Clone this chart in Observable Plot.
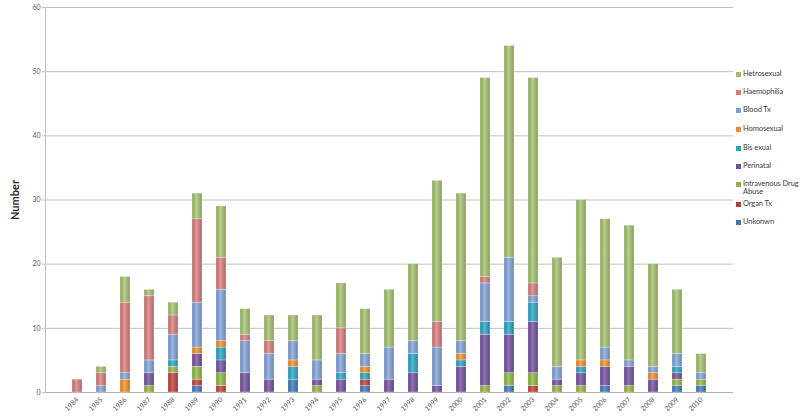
<!DOCTYPE html>
<html>
<head>
<meta charset="utf-8">
<script src="https://cdn.jsdelivr.net/npm/d3@7"></script>
<script src="https://cdn.jsdelivr.net/npm/@observablehq/plot@0.6"></script>
<style>
  html, body { margin: 0; padding: 0; background: #fff; }
  #wrap { position: relative; width: 800px; height: 416px; font-family: Lato, "Open Sans", sans-serif; }
  #legend { position: absolute; left: 736px; top: 70px; width: 64px; font-size: 7.5px; letter-spacing: -0.1px; color: #404040; line-height: 8px; }
  .li { position: absolute; left: 0; display: flex; align-items: flex-start; white-space: nowrap; }
  .sw { width: 5px; height: 5px; margin: 2px 2px 0 0; flex: none; }
</style>
</head>
<body>
<div id="wrap"></div>
<script>
const years = ["1984","1985","1986","1987","1988","1989","1990","1991","1992","1993","1994","1995","1996","1997","1998","1999","2000","2001","2002","2003","2004","2005","2006","2007","2008","2009","2010"];
const seriesNames = ["Unkonwn","Organ Tx","Intravenous Drug Abuse","Perinatal","Bis exual","Homosexual","Blood Tx","Haemophilia","Hetrosexual"];
const seriesColors = ["#3A75BD","#BE3A34","#8DB43E","#704C9C","#23A1BF","#F08A22","#7E9FD3","#D47A78","#A0BE6A"];
const yTicks = [0,10,20,30,40,50,60];
//                       84 85 86 87 88 89 90 91 92 93 94 95 96 97 98 99 00 01 02 03 04 05 06 07 08 09 10
const unknown        = [ 0, 0, 0, 0, 0, 1, 0, 0, 0, 2, 0, 0, 1, 0, 0, 0, 0, 0, 1, 0, 0, 0, 1, 0, 0, 1, 1];
const organTx        = [ 0, 0, 0, 0, 3, 1, 1, 0, 0, 0, 0, 0, 1, 0, 0, 0, 0, 0, 0, 1, 0, 0, 0, 0, 0, 0, 0];
const ivDrug         = [ 0, 0, 0, 1, 1, 2, 2, 0, 0, 0, 1, 0, 0, 0, 0, 0, 0, 1, 2, 2, 1, 1, 0, 1, 0, 1, 1];
const perinatal      = [ 0, 0, 0, 2, 0, 2, 2, 3, 2, 0, 1, 2, 0, 2, 3, 1, 4, 8, 6, 8, 1, 2, 3, 3, 2, 1, 0];
const bisexual       = [ 0, 0, 0, 0, 1, 0, 2, 0, 0, 2, 0, 1, 1, 0, 3, 0, 1, 2, 2, 3, 0, 1, 0, 0, 0, 1, 0];
const homosexual     = [ 0, 0, 2, 0, 0, 1, 1, 0, 0, 1, 0, 0, 1, 0, 0, 0, 1, 0, 0, 0, 0, 1, 1, 0, 1, 0, 0];
const bloodTx        = [ 0, 1, 1, 2, 4, 7, 8, 5, 4, 3, 3, 3, 2, 5, 2, 6, 2, 6,10, 1, 2, 0, 2, 1, 1, 2, 1];
const haemophilia    = [ 2, 2,11,10, 3,13, 5, 1, 2, 0, 0, 4, 0, 0, 0, 4, 0, 1, 0, 2, 0, 0, 0, 0, 0, 0, 0];
const hetrosexual    = [ 0, 1, 4, 1, 2, 4, 8, 4, 4, 4, 7, 7, 7, 9,12,22,23,31,33,32,17,25,20,21,16,10, 3];
const seriesValues = [unknown, organTx, ivDrug, perinatal, bisexual, homosexual, bloodTx, haemophilia, hetrosexual];

const data = [];
seriesNames.forEach((s, si) => {
  years.forEach((y, yi) => {
    data.push({year: y, series: s, value: seriesValues[si][yi]});
  });
});

const chart = Plot.plot({
  width: 800, height: 416,
  marginLeft: 45, marginRight: 67, marginTop: 7, marginBottom: 24,
  style: {fontFamily: "Lato, 'Open Sans', sans-serif", background: "#fff"},
  x: {domain: years, padding: 0.6, label: null},
  y: {domain: [0, 60], label: "Number"},
  color: {domain: seriesNames, range: seriesColors},
  marks: [
    Plot.gridY(yTicks.slice(1), {stroke: "#c0c0c0", strokeOpacity: 1}),
    Plot.ruleY([0], {stroke: "#b0b0b0"}),
    Plot.frame({anchor: "left", stroke: "#c0c0c0"}),
    Plot.barY(data, {x: "year", y: "value", fill: "series", order: seriesNames, stroke: "#ffffff", strokeOpacity: 0.45, strokeWidth: 0.6}),
    Plot.axisY({ticks: yTicks, tickSize: 3, tickPadding: 2, fontSize: 7, color: "#595959", stroke: "#c0c0c0", label: "Number", labelAnchor: "center", labelArrow: "none", labelOffset: 34}),
    Plot.axisX({tickRotate: -45, tickSize: 0, tickPadding: 6, fontSize: 7, color: "#595959", label: null})
  ]
});

// cylinder-like gradients
const svg = d3.select(chart);
const defs = svg.insert("defs", ":first-child");
const gradId = {};
seriesColors.forEach((c, i) => {
  const base = d3.color(c);
  const g = defs.append("linearGradient").attr("id", "g" + i).attr("x1", 0).attr("x2", 1).attr("y1", 0).attr("y2", 0);
  g.append("stop").attr("offset", "0%").attr("stop-color", base.darker(0.4).formatHex());
  g.append("stop").attr("offset", "45%").attr("stop-color", d3.interpolateRgb(c, "#ffffff")(0.22));
  g.append("stop").attr("offset", "100%").attr("stop-color", base.darker(0.5).formatHex());
  gradId[base.formatHex()] = "url(#g" + i + ")";
});
svg.selectAll("g[aria-label='bar'] rect").each(function() {
  const f = this.getAttribute("fill");
  if (!f) return;
  const key = d3.color(f).formatHex();
  if (gradId[key]) this.setAttribute("fill", gradId[key]);
});
svg.selectAll("g[aria-label='y-axis label'] text")
  .attr("font-size", 11).attr("font-weight", "bold").attr("fill", "#262626");

const wrap = document.getElementById("wrap");
wrap.appendChild(chart);

// legend (right side)
const legendOrder = ["Hetrosexual","Haemophilia","Blood Tx","Homosexual","Bis exual","Perinatal","Intravenous Drug Abuse","Organ Tx","Unkonwn"];
const legendTops = [0, 18, 36, 55, 74, 92, 110, 130, 148];
const lg = document.createElement("div");
lg.id = "legend";
legendOrder.forEach((name, i) => {
  const item = document.createElement("div");
  item.className = "li";
  item.style.top = legendTops[i] + "px";
  const sw = document.createElement("span");
  sw.className = "sw";
  sw.style.background = seriesColors[seriesNames.indexOf(name)];
  const t = document.createElement("span");
  t.innerHTML = name === "Intravenous Drug Abuse" ? "Intravenous Drug<br>Abuse" : name;
  item.appendChild(sw); item.appendChild(t);
  lg.appendChild(item);
});
wrap.appendChild(lg);
</script>
</body>
</html>
